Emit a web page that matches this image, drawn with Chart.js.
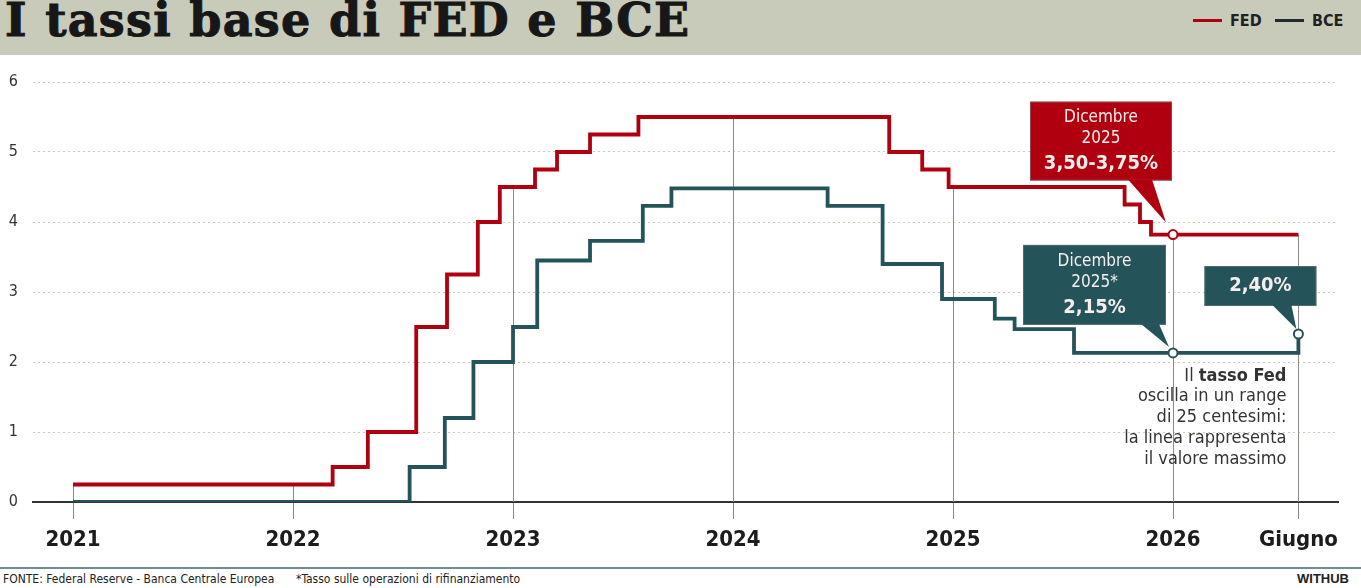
<!DOCTYPE html>
<html lang="it">
<head>
<meta charset="utf-8">
<title>I tassi base di FED e BCE</title>
<script src="https://cdn.jsdelivr.net/npm/chart.js@4.4.1/dist/chart.umd.min.js"></script>
<style>
  html, body { margin: 0; padding: 0; background: #fff; }
  body {
    width: 1361px; height: 588px; position: relative; overflow: hidden;
    font-family: 'Liberation Sans Narrow', 'DejaVu Sans Condensed', 'Roboto Condensed', 'Noto Sans', sans-serif;
  }
  #header { position: absolute; left: 0; top: 0; width: 1361px; height: 55px; background: #c9cbba; }
  #title {
    position: absolute; left: 5px; top: -7px; margin: 0;
    font-family: 'DejaVu Serif', 'Liberation Serif', serif; font-weight: 900; font-size: 46px;
    letter-spacing: 1.3px; -webkit-text-stroke: 1px #171717;
    color: #171717; white-space: nowrap;
  }
  .leg { position: absolute; top: 11px; font-weight: bold; font-size: 16px; color: #222; }
  .leg i { display: inline-block; width: 29px; height: 3px; vertical-align: middle; margin-right: 8px; position: relative; top: -1px; }
  #wrap { position: absolute; left: 0; top: 55px; width: 1361px; height: 510px; }
  #rule { position: absolute; left: 0; top: 567px; width: 1361px; height: 2px; background: #6f8e90; }
  .foot { position: absolute; top: 572px; font-size: 12px; color: #222; white-space: nowrap; }
  #brand { position: absolute; top: 571px; right: 12px; font-family: 'Liberation Sans', Arial, sans-serif; font-weight: bold; font-size: 13px; color: #222; }
</style>
</head>
<body>
<div id="header">
  <h1 id="title">I tassi base di FED e BCE</h1>
  <div class="leg" style="left:1193px"><i style="background:#b0000f"></i>FED</div>
  <div class="leg" style="left:1275px"><i style="background:#1f2b2e"></i>BCE</div>
</div>
<div id="wrap"><canvas id="rates"></canvas></div>
<div id="rule"></div>
<div class="foot" style="left:3px">FONTE: Federal Reserve - Banca Centrale Europea</div>
<div class="foot" style="left:296px">*Tasso sulle operazioni di rifinanziamento</div>
<div id="brand">WITHUB</div>
<script>
// dati (anno decimale, tasso %)
const fedX = [2021.0, 2022.18, 2022.34, 2022.56, 2022.70, 2022.84, 2022.94, 2023.10, 2023.20, 2023.35, 2023.57, 2024.71, 2024.86, 2024.98, 2025.78, 2025.85, 2025.90, 2026.57];
const fedY = [0.25, 0.5, 1.0, 2.5, 3.25, 4.0, 4.5, 4.75, 5.0, 5.25, 5.5, 5.0, 4.75, 4.5, 4.25, 4.0, 3.82, 3.82];
const bceX = [2021.0, 2022.53, 2022.69, 2022.82, 2023.0, 2023.11, 2023.35, 2023.59, 2023.72, 2024.43, 2024.68, 2024.95, 2025.19, 2025.28, 2025.55, 2026.57];
const bceY = [0, 0.5, 1.2, 2.0, 2.5, 3.45, 3.73, 4.23, 4.48, 4.23, 3.4, 2.9, 2.62, 2.47, 2.13, 2.4];

const fedMarkX = [2026.0];
const fedMarkY = [3.82];
const bceMarkX = [2026.0, 2026.57];
const bceMarkY = [2.13, 2.4];

const xTicks = [2021, 2022, 2023, 2024, 2025, 2026, 2026.57];
const xLabels = ["2021", "2022", "2023", "2024", "2025", "2026", "Giugno"];
const yTicks = [0, 1, 2, 3, 4, 5, 6];

const fedCallout = ["Dicembre", "2025", "3,50-3,75%"];
const bceCallout = ["Dicembre", "2025*", "2,15%"];
const juneCallout = ["2,40%"];
const noteLines = [
  [["Il ", false], ["tasso Fed", true]],
  [["oscilla in un range", false]],
  [["di 25 centesimi:", false]],
  [["la linea rappresenta", false]],
  [["il valore massimo", false]],
];

const RED = "#b0000f";
const TEAL = "#25535a";
const FONT = "'Liberation Sans Narrow', 'DejaVu Sans Condensed', 'Roboto Condensed', 'Noto Sans', sans-serif";

const toPoints = (xs, ys) => xs.map((x, i) => ({ x: x, y: ys[i] }));

function fedAt(x) {
  let v = fedY[0];
  for (let i = 0; i < fedX.length; i++) if (fedX[i] <= x + 1e-6) v = fedY[i];
  return v;
}

// linee verticali degli anni, dal livello FED fino all'asse
const yearLines = {
  id: "yearLines",
  beforeDatasetsDraw(chart) {
    const { ctx, scales, chartArea } = chart;
    ctx.save();
    ctx.strokeStyle = "#8c8c86";
    ctx.lineWidth = 1;
    xTicks.forEach((t) => {
      const px = Math.round(scales.x.getPixelForValue(t)) + 0.5;
      ctx.beginPath();
      ctx.moveTo(px, scales.y.getPixelForValue(fedAt(t)));
      ctx.lineTo(px, chartArea.bottom);
      ctx.stroke();
    });
    ctx.restore();
  },
};

function callout(ctx, ax, ay, box, tail, lines, color) {
  ctx.save();
  ctx.fillStyle = color;
  ctx.strokeStyle = "rgba(120,120,120,0.6)";
  ctx.lineWidth = 1;
  ctx.fillRect(ax + box[0], ay + box[1], box[2] - box[0], box[3] - box[1]);
  ctx.strokeRect(ax + box[0] + 0.5, ay + box[1] + 0.5, box[2] - box[0] - 1, box[3] - box[1] - 1);
  ctx.beginPath();
  ctx.moveTo(ax + tail[0], ay + box[3] - 1);
  ctx.lineTo(ax + tail[1], ay + box[3] - 1);
  ctx.lineTo(ax + tail[2], ay + tail[3]);
  ctx.closePath();
  ctx.fill();
  ctx.fillStyle = "#f4eeee";
  ctx.textAlign = "center";
  ctx.textBaseline = "middle";
  const cx = ax + (box[0] + box[2]) / 2;
  lines.forEach((l) => {
    ctx.font = (l.bold ? "bold " : "") + l.size + "px " + FONT;
    ctx.fillText(l.text, cx, ay + l.dy);
  });
  ctx.restore();
}

const annotations = {
  id: "annotations",
  afterDatasetsDraw(chart) {
    const { ctx, scales } = chart;
    const x = scales.x, y = scales.y;

    const fx = x.getPixelForValue(fedMarkX[0]), fy = y.getPixelForValue(fedMarkY[0]);
    callout(ctx, fx, fy, [-143, -133, -1, -54], [-45, -21, -7, -12], [
      { text: fedCallout[0], size: 17, dy: -117 },
      { text: fedCallout[1], size: 17, dy: -96 },
      { text: fedCallout[2], size: 20, bold: true, dy: -71 },
    ], RED);

    const bx = x.getPixelForValue(bceMarkX[0]), by = y.getPixelForValue(bceMarkY[0]);
    callout(ctx, bx, by, [-150, -108, -7, -28], [-32, -14, -4, -6], [
      { text: bceCallout[0], size: 17, dy: -91 },
      { text: bceCallout[1], size: 17, dy: -70 },
      { text: bceCallout[2], size: 20, bold: true, dy: -45 },
    ], TEAL);

    const jx = x.getPixelForValue(bceMarkX[1]), jy = y.getPixelForValue(bceMarkY[1]);
    callout(ctx, jx, jy, [-94, -68, 18, -28], [-26, -7, -2, -5], [
      { text: juneCallout[0], size: 20, bold: true, dy: -48 },
    ], TEAL);

    // nota a destra
    ctx.save();
    ctx.fillStyle = "#333";
    ctx.textBaseline = "middle";
    ctx.textAlign = "left";
    const right = x.getPixelForValue(xTicks[6]) - 12;
    let ly = y.getPixelForValue(bceMarkY[0]) + 23;
    noteLines.forEach((parts) => {
      let w = 0;
      parts.forEach((p) => { ctx.font = (p[1] ? "bold " : "") + "18px " + FONT; w += ctx.measureText(p[0]).width; });
      let lx = right - w;
      parts.forEach((p) => {
        ctx.font = (p[1] ? "bold " : "") + "18px " + FONT;
        ctx.fillText(p[0], lx, ly);
        lx += ctx.measureText(p[0]).width;
      });
      ly += 20.8;
    });
    ctx.restore();
  },
};

new Chart(document.getElementById("rates"), {
  type: "line",
  data: {
    datasets: [
      {
        label: "FED dic",
        data: toPoints(fedMarkX, fedMarkY),
        showLine: false,
        pointRadius: 4.5,
        pointBackgroundColor: "#fff",
        pointBorderColor: RED,
        pointBorderWidth: 2,
        order: 0,
      },
      {
        label: "BCE dic",
        data: toPoints(bceMarkX, bceMarkY),
        showLine: false,
        pointRadius: 4.5,
        pointBackgroundColor: "#fff",
        pointBorderColor: TEAL,
        pointBorderWidth: 2,
        order: 0,
      },
      {
        label: "FED",
        data: toPoints(fedX, fedY),
        stepped: "before",
        borderColor: RED,
        borderWidth: 3.8,
        pointRadius: 0,
        fill: false,
        order: 1,
      },
      {
        label: "BCE",
        data: toPoints(bceX, bceY),
        stepped: "before",
        borderColor: TEAL,
        borderWidth: 3.8,
        pointRadius: 0,
        fill: false,
        order: 1,
      },
    ],
  },
  options: {
    responsive: true,
    maintainAspectRatio: false,
    animation: false,
    layout: { padding: { left: 0, right: 23, top: 27, bottom: 0 } },
    plugins: { legend: { display: false }, tooltip: { enabled: false } },
    scales: {
      x: {
        type: "linear",
        min: 2020.818,
        max: 2026.75,
        afterBuildTicks: (scale) => { scale.ticks = xTicks.map((v) => ({ value: v })); },
        afterFit: (scale) => { scale.height = 63; },
        ticks: {
          callback: (v, i) => xLabels[i],
          autoSkip: false,
          maxRotation: 0,
          padding: 8,
          color: "#1c1c1c",
          font: { family: FONT, size: 22, weight: "bold" },
        },
        grid: { drawOnChartArea: false, drawTicks: true, tickLength: 17, color: "#888", lineWidth: 1 },
        border: { display: true, color: "#333", width: 2 },
      },
      y: {
        min: 0,
        max: 6,
        afterBuildTicks: (scale) => { scale.ticks = yTicks.map((v) => ({ value: v })); },
        afterFit: (scale) => { scale.width = 33; },
        ticks: { padding: 15, color: "#333", font: { family: FONT, size: 16 } },
        grid: {
          drawTicks: false,
          color: (c) => (c.tick && c.tick.value === 0 ? "rgba(0,0,0,0)" : "#cdc9b8"),
          lineWidth: 1,
        },
        border: { display: false, dash: [2, 3] },
      },
    },
  },
  plugins: [yearLines, annotations],
});
</script>
</body>
</html>
